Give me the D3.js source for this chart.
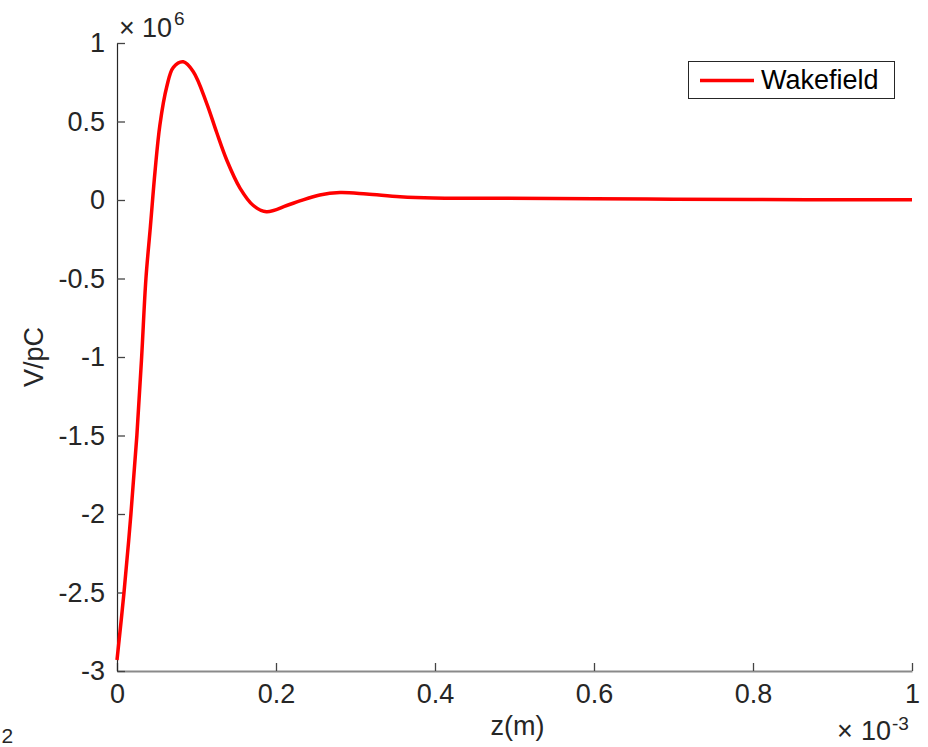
<!DOCTYPE html>
<html>
<head>
<meta charset="utf-8">
<script src="https://cdn.jsdelivr.net/npm/d3@7"></script>
<style>
  html, body { margin: 0; padding: 0; background: #fff; }
  svg { display: block; }
  text { font-family: "Liberation Sans", Arial, Helvetica, sans-serif; fill: #262626; }
</style>
</head>
<body>
<svg id="chart" width="928" height="747"></svg>
<script>
// Longitudinal wakefield: z in units of 1e-3 m, wake in units of 1e6 V/pC
const zScaled = [0, 0.0088, 0.0175, 0.025, 0.031, 0.0364, 0.042, 0.0478, 0.054, 0.0625,
  0.0709, 0.0834, 0.096, 0.1128, 0.1254, 0.138, 0.1547, 0.1715, 0.188, 0.2135, 0.230,
  0.255, 0.2805, 0.314, 0.356, 0.398, 0.482, 0.6, 0.7, 0.8, 0.9, 1.0];
const wakeScaled = [-2.93, -2.5, -2.0, -1.5, -1.0, -0.5, -0.17, 0.18, 0.48, 0.72,
  0.845, 0.88, 0.817, 0.616, 0.43, 0.255, 0.076, -0.035, -0.0745, -0.035, -0.006,
  0.032, 0.047, 0.038, 0.021, 0.013, 0.011, 0.008, 0.005, 0.003, 0.002, 0.001];

const xTicks = [0, 0.2, 0.4, 0.6, 0.8, 1];
const xTickLabels = ["0", "0.2", "0.4", "0.6", "0.8", "1"];
const yTicks = [1, 0.5, 0, -0.5, -1, -1.5, -2, -2.5, -3];
const yTickLabels = ["1", "0.5", "0", "-0.5", "-1", "-1.5", "-2", "-2.5", "-3"];

const seriesName = "Wakefield";
const xLabel = "z(m)";
const yLabel = "V/pC";
const xExponent = "-3";
const yExponent = "6";

const svg = d3.select("#chart");
const plotLeft = 117, plotRight = 912, plotTop = 43, plotBottom = 671;

const x = d3.scaleLinear().domain([0, 1]).range([plotLeft, plotRight]);
const y = d3.scaleLinear().domain([-3, 1]).range([plotBottom, plotTop]);

const FS = 27;

// Axes with inward ticks
const xAxis = d3.axisBottom(x)
  .tickValues(xTicks)
  .tickFormat((d, i) => xTickLabels[i])
  .tickSizeInner(-8).tickSizeOuter(0).tickPadding(13);
const yAxis = d3.axisLeft(y)
  .tickValues(yTicks)
  .tickFormat((d, i) => yTickLabels[i])
  .tickSizeInner(-8).tickSizeOuter(0).tickPadding(12);

const gx = svg.append("g").attr("transform", `translate(0,${plotBottom})`).call(xAxis);
const gy = svg.append("g").attr("transform", `translate(${plotLeft},0)`).call(yAxis);

[gx, gy].forEach(g => {
  g.attr("font-family", null).attr("font-size", null);
  g.selectAll("text").style("font-size", FS + "px").attr("fill", "#262626");
  g.selectAll(".tick line").attr("stroke", "#444").attr("stroke-width", 1.3);
});
gx.select(".domain").attr("stroke", "#8a8a8a").attr("stroke-width", 2);
gy.select(".domain").attr("stroke", "#262626").attr("stroke-width", 1.2);

// Exponent multipliers
function exponentLabel(xTimes, xTen, xSup, baseline, supBaseline, exp) {
  const t = svg.append("text").style("font-size", FS + "px");
  t.append("tspan").attr("x", xTimes).attr("y", baseline).text("\u00d7");
  t.append("tspan").attr("x", xTen).attr("y", baseline).text("10");
  t.append("tspan").attr("x", xSup).attr("y", supBaseline).style("font-size", "19px").text(exp);
}
exponentLabel(119, 142, 174, 37, 25, yExponent);
exponentLabel(837, 861, 892, 740, 730, xExponent);

// Axis titles
svg.append("text")
  .attr("x", (plotLeft + plotRight) / 2 + 3).attr("y", 735)
  .attr("text-anchor", "middle")
  .style("font-size", FS + "px")
  .text(xLabel);

svg.append("text")
  .attr("transform", `translate(43,${(plotTop + plotBottom) / 2}) rotate(-90)`)
  .attr("text-anchor", "middle")
  .style("font-size", FS + "px")
  .text(yLabel);

// Wakefield curve
const pts = zScaled.map((z, i) => [z, wakeScaled[i]]);
const line = d3.line()
  .x(d => x(d[0]))
  .y(d => y(d[1]))
  .curve(d3.curveCatmullRom.alpha(0.5));

svg.append("path")
  .datum(pts)
  .attr("d", line)
  .attr("fill", "none")
  .attr("stroke", "#ff0000")
  .attr("stroke-width", 3.5)
  .attr("stroke-linejoin", "round");

// Legend
const lg = svg.append("g");
lg.append("rect")
  .attr("x", 688.5).attr("y", 61.5).attr("width", 206).attr("height", 37)
  .attr("fill", "#fff").attr("stroke", "#262626").attr("stroke-width", 1);
lg.append("line")
  .attr("x1", 700).attr("x2", 754).attr("y1", 80.5).attr("y2", 80.5)
  .attr("stroke", "#ff0000").attr("stroke-width", 3.5);
lg.append("text")
  .attr("x", 761).attr("y", 89)
  .style("font-size", FS + "px").style("fill", "#000")
  .text(seriesName);

// Stray label at lower-left edge
svg.append("text")
  .attr("x", 1.5).attr("y", 742.5)
  .style("font-size", "21px")
  .text("2");
</script>
</body>
</html>
